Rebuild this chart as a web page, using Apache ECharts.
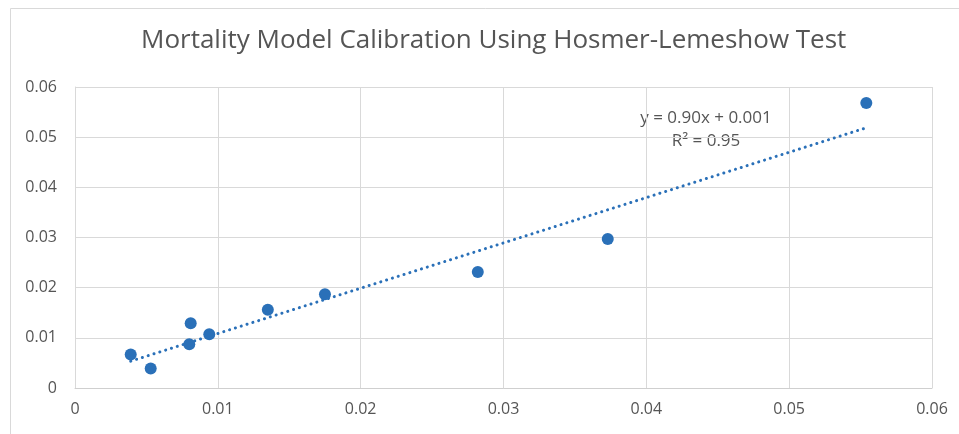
<!DOCTYPE html>
<html><head><meta charset="utf-8">
<script src="https://cdn.jsdelivr.net/npm/echarts@6/dist/echarts.min.js"></script>
<style>html,body{margin:0;padding:0;background:#fff}#c{width:959px;height:434px}</style>
</head><body><div id="c"></div>
<script>
const titleText = "Mortality Model Calibration Using Hosmer-Lemeshow Test";
const predicted = [0.0039, 0.0053, 0.0081, 0.0080, 0.0094, 0.0135, 0.0175, 0.0282, 0.0373, 0.0554];
const observed  = [0.0067, 0.0039, 0.0129, 0.0087, 0.0107, 0.0156, 0.0187, 0.0231, 0.0297, 0.0568];
const axisTicks = [0, 0.01, 0.02, 0.03, 0.04, 0.05, 0.06];
const eqLabel = "y = 0.90x + 0.001";
const r2Label = "R² = 0.95";

// least-squares trendline
const n = predicted.length;
const mx = predicted.reduce((a,b)=>a+b,0)/n, my = observed.reduce((a,b)=>a+b,0)/n;
let sxy=0, sxx=0;
for (let i=0;i<n;i++){ sxy+=(predicted[i]-mx)*(observed[i]-my); sxx+=(predicted[i]-mx)**2; }
const slope = sxy/sxx, icpt = my - slope*mx;
const xmin = Math.min(...predicted), xmax = Math.max(...predicted);
const trend = [[xmin, slope*xmin+icpt],[xmax, slope*xmax+icpt]];

const blue = '#2a70b8', txt = '#555555', grid = '#d9d9d9';
const fnt = '"Open Sans", sans-serif';
const chart = echarts.init(document.getElementById('c'));
chart.setOption({
  animation:false,
  title:{text:titleText,left:136,top:23,textStyle:{fontFamily:fnt,fontSize:26,fontWeight:'normal',color:txt}},
  grid:{left:75,right:27,top:87,bottom:46},
  xAxis:{type:'value',min:0,max:0.06,interval:0.01,
    axisLine:{show:true,lineStyle:{color:'#cfcfcf'}},axisTick:{show:false},
    axisLabel:{color:txt,fontFamily:fnt,fontSize:16,margin:13,formatter:v=>String(+v.toFixed(2))},
    splitLine:{show:true,lineStyle:{color:grid}}},
  yAxis:{type:'value',min:0,max:0.06,interval:0.01,
    axisLine:{show:true,lineStyle:{color:grid}},axisTick:{show:false},
    axisLabel:{color:txt,fontFamily:fnt,fontSize:16,margin:18,formatter:v=>String(+v.toFixed(2))},
    splitLine:{show:true,lineStyle:{color:grid}}},
  series:[
    {type:'line',data:trend,symbol:'none',silent:true,
      lineStyle:{color:blue,width:3,type:[0.1,6],cap:'round'},z:2},
    {type:'scatter',data:predicted.map((x,i)=>[x,observed[i]]),symbolSize:12,
      itemStyle:{color:blue,opacity:1},z:3}
  ],
  graphic:[
    {type:'rect',shape:{x:10.5,y:8.5,width:980,height:460},style:{fill:'none',stroke:grid,lineWidth:1},silent:true},
    {type:'text',x:706,y:118,style:{text:eqLabel,fill:txt,font:'17px '+fnt,align:'center',verticalAlign:'middle'}},
    {type:'text',x:706,y:141,style:{text:r2Label,fill:txt,font:'17px '+fnt,align:'center',verticalAlign:'middle'}}
  ]
});
</script></body></html>
